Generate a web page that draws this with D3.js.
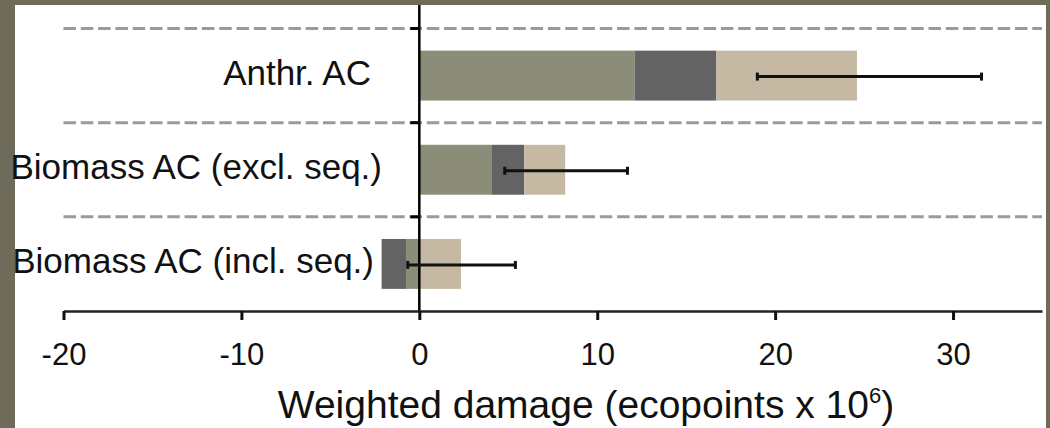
<!DOCTYPE html>
<html>
<head>
<meta charset="utf-8">
<script src="https://cdn.jsdelivr.net/npm/d3@7"></script>
<style>
    html, body { margin: 0; padding: 0; background: #6e6b5b; }
    svg { display: block; }
    text { font-family: "Liberation Sans", Arial, sans-serif; fill: #111; }
</style>
</head>
<body>
<div id="chart"></div>
<script>
// data
const categories = ['Anthr. AC', 'Biomass AC (excl. seq.)', 'Biomass AC (incl. seq.)'];
const seriesNames = ['damage1', 'damage2', 'damage3'];
const damage1 = [12.1, 4.05, -0.75];
const damage2 = [4.6, 1.85, -1.37];
const damage3 = [7.9, 2.3, 2.34];
const errLow = [19.0, 4.8, -0.65];
const errHigh = [31.6, 11.7, 5.4];
const xTicks = [-20, -10, 0, 10, 20, 30];
const xTitle = 'Weighted damage (ecopoints x 10';
const xTitleSup = '6';

(function () {
    let w = 1050, h = 428;
    let colors = ['#8b8d79', '#636363', '#c6b9a3'];

    let rows = categories.map(function (c, i) {
        return {
            category: c,
            damage1: damage1[i],
            damage2: damage2[i],
            damage3: damage3[i],
            lo: errLow[i],
            hi: errHigh[i]
        };
    });

    let svg = d3.select('#chart')
        .append('svg')
        .attr('width', w)
        .attr('height', h);

    // white panel inside the dark frame
    svg.append('rect')
        .attr('x', 15).attr('y', 5)
        .attr('width', 1031).attr('height', h - 5)
        .attr('fill', '#ffffff');

    let x = d3.scaleLinear().domain([-20, 35]).range([63.5, 1042]);
    let y = d3.scaleBand().domain(categories).range([28.5, 311]).paddingInner(0.47).paddingOuter(0.235);
    let axisY = 311;

    // dashed separators between categories
    let sepY = categories.map(function (c) { return y(c) - y.step() * y.paddingInner() / 2; });
    svg.selectAll('.sep')
        .data(sepY)
        .enter()
        .append('line')
        .attr('class', 'sep')
        .attr('x1', x(-20)).attr('x2', x(35))
        .attr('y1', function (d) { return d; })
        .attr('y2', function (d) { return d; })
        .attr('stroke', '#9a9a9a')
        .attr('stroke-width', 3)
        .attr('stroke-dasharray', '12.5,4.8');

    // stacked bars
    let stack = d3.stack().keys(seriesNames).offset(d3.stackOffsetDiverging);
    let layers = stack(rows);

    let g = svg.selectAll('.layer')
        .data(layers)
        .enter()
        .append('g')
        .attr('class', 'layer')
        .attr('fill', function (d, i) { return colors[i]; });

    g.selectAll('rect')
        .data(function (d) { return d; })
        .enter()
        .append('rect')
        .attr('x', function (d) { return x(Math.min(d[0], d[1])); })
        .attr('width', function (d) { return Math.abs(x(d[1]) - x(d[0])); })
        .attr('y', function (d) { return y(d.data.category); })
        .attr('height', y.bandwidth());

    // zero line with small ticks at separators
    svg.append('line')
        .attr('x1', x(0)).attr('x2', x(0))
        .attr('y1', 5).attr('y2', axisY)
        .attr('stroke', '#000').attr('stroke-width', 2.5);

    svg.selectAll('.ytick')
        .data(sepY)
        .enter()
        .append('line')
        .attr('class', 'ytick')
        .attr('x1', x(0) - 9).attr('x2', x(0))
        .attr('y1', function (d) { return d; })
        .attr('y2', function (d) { return d; })
        .attr('stroke', '#000').attr('stroke-width', 3);

    // error bars
    let eb = svg.selectAll('.err')
        .data(rows)
        .enter()
        .append('g')
        .attr('class', 'err')
        .attr('stroke', '#111')
        .attr('stroke-width', 3);

    eb.append('line')
        .attr('x1', function (d) { return x(d.lo); })
        .attr('x2', function (d) { return x(d.hi); })
        .attr('y1', function (d) { return y(d.category) + y.bandwidth() / 2 + 1; })
        .attr('y2', function (d) { return y(d.category) + y.bandwidth() / 2 + 1; });

    ['lo', 'hi'].forEach(function (k) {
        eb.append('line')
            .attr('x1', function (d) { return x(d[k]); })
            .attr('x2', function (d) { return x(d[k]); })
            .attr('y1', function (d) { return y(d.category) + y.bandwidth() / 2 - 3; })
            .attr('y2', function (d) { return y(d.category) + y.bandwidth() / 2 + 5; });
    });

    // category labels
    let labelNudge = [-5, 6, -2];
    svg.selectAll('.cat')
        .data(categories)
        .enter()
        .append('text')
        .attr('class', 'cat')
        .attr('x', function (d, i) { return 376 + labelNudge[i]; })
        .attr('y', function (d) { return y(d) + y.bandwidth() / 2 + 9.5; })
        .attr('text-anchor', 'end')
        .style('font-size', '35px')
        .text(function (d) { return d; });

    // x axis
    let xAxis = d3.axisBottom(x)
        .tickValues(xTicks)
        .tickFormat(function (d) { return String(d); })
        .tickSize(9)
        .tickSizeOuter(0)
        .tickPadding(23);

    let ax = svg.append('g')
        .attr('transform', 'translate(0,' + axisY + ')')
        .call(xAxis);

    ax.select('.domain').attr('stroke', '#222').attr('stroke-width', 2.5);
    ax.selectAll('.tick line').attr('stroke', '#111').attr('stroke-width', 3);
    ax.selectAll('.tick text')
        .style('font-size', '31px')
        .style('font-family', '"Liberation Sans", Arial, sans-serif')
        .attr('fill', '#111');

    let title = svg.append('text')
        .attr('x', 586)
        .attr('y', 418)
        .attr('text-anchor', 'middle')
        .style('font-size', '39px');
    title.append('tspan').text(xTitle);
    title.append('tspan')
        .attr('dy', -15)
        .style('font-size', '22px')
        .text(xTitleSup);
    title.append('tspan')
        .attr('dy', 15)
        .text(')');
})();
</script>
</body>
</html>
